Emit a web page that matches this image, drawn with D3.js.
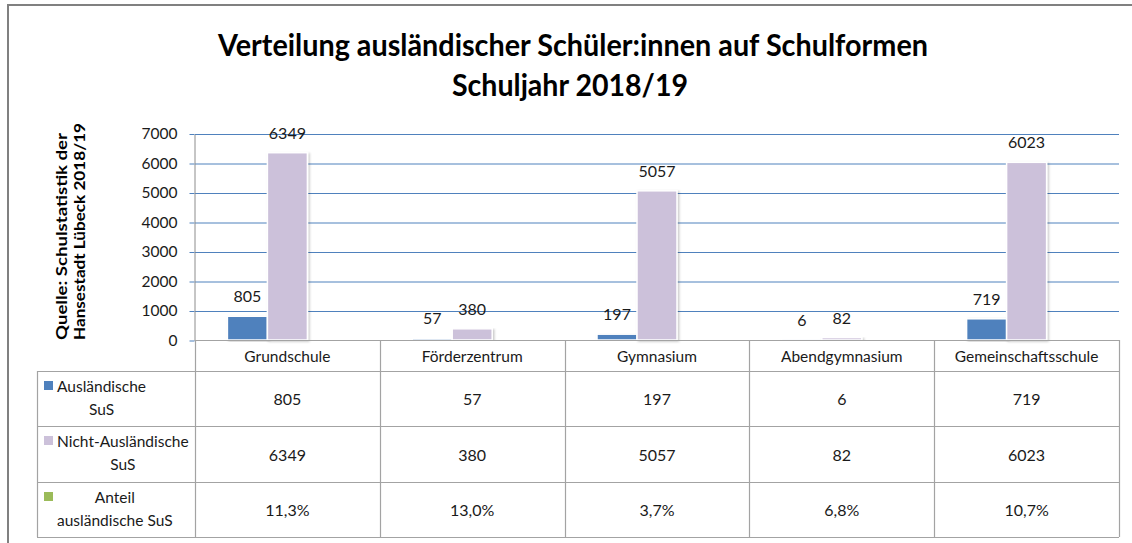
<!DOCTYPE html>
<html>
<head>
<meta charset="utf-8">
<script src="https://cdn.jsdelivr.net/npm/d3@7"></script>
<style>
  body { margin: 0; background: #fff; }
  text { font-family: Lato, "Open Sans", sans-serif; fill: #1a1a1a; }
  .tick text { font-size: 15.5px; }
</style>
</head>
<body>
<div class="chart"></div>
<script>
// Data
var categories = ["Grundschule", "Förderzentrum", "Gymnasium", "Abendgymnasium", "Gemeinschaftsschule"];
var auslaendischeSuS = [805, 57, 197, 6, 719];
var nichtAuslaendischeSuS = [6349, 380, 5057, 82, 6023];
var anteilAuslaendisch = [11.3, 13.0, 3.7, 6.8, 10.7];
var seriesNames = [["Ausländische", "SuS"], ["Nicht-Ausländische", "SuS"], ["Anteil", "ausländische SuS"]];
var seriesColors = ["#4F81BD", "#CCC1DA", "#9BBB59"];
var yTicks = [0, 1000, 2000, 3000, 4000, 5000, 6000, 7000];

var svgWidth = 1132;
var svgHeight = 543;

// plot box and table layout
var plot = { left: 195, right: 1119, top: 133.5, bottom: 340 };
var tableLeft = 37;
var catRowBottom = 371;
var rowTops = [371, 426, 482];
var tableBottom = 537;

var de = d3.formatLocale({ decimal: ",", thousands: ".", grouping: [3], currency: ["", " €"] });
var pct = de.format(".1f");

var svg = d3.select(".chart")
  .append("svg")
  .attr("width", svgWidth)
  .attr("height", svgHeight);

var defs = svg.append("defs");
defs.append("filter")
  .attr("id", "shadow")
  .attr("x", "-20%").attr("y", "-5%").attr("width", "140%").attr("height", "110%")
  .append("feDropShadow")
  .attr("dx", 1.5).attr("dy", 1)
  .attr("stdDeviation", 1.2)
  .attr("flood-color", "#000")
  .attr("flood-opacity", 0.22);

// outer frame (only top + left visible)
svg.append("path")
  .attr("d", `M8,${svgHeight} L8,5 L${svgWidth},5`)
  .attr("fill", "none")
  .attr("stroke", "#808080")
  .attr("stroke-width", 2);

// Title
var titleLines = [
  { text: "Verteilung ausländischer Schüler:innen auf Schulformen", x: 218, y: 56, len: 710 },
  { text: "Schuljahr 2018/19", x: 452, y: 96, len: 236 }
];
svg.selectAll(".title")
  .data(titleLines)
  .enter()
  .append("text")
  .attr("class", "title")
  .attr("x", d => d.x)
  .attr("y", d => d.y)
  .attr("textLength", d => d.len)
  .attr("lengthAdjust", "spacingAndGlyphs")
  .style("font-size", "30px")
  .style("font-weight", "bold")
  .style("fill", "#000")
  .text(d => d.text);

// Scales
var x0 = d3.scaleBand()
  .domain(categories)
  .range([plot.left, plot.right]);

var groupWidth = 120;
var x1 = d3.scaleBand()
  .domain([0, 1, 2])
  .range([(x0.bandwidth() - groupWidth) / 2, (x0.bandwidth() + groupWidth) / 2]);

var yLinearScale = d3.scaleLinear()
  .domain([0, 7000])
  .range([plot.bottom, plot.top]);

// Gridlines
svg.append("g")
  .attr("class", "grid")
  .attr("transform", `translate(${plot.left}, 0.5)`)
  .call(d3.axisLeft(yLinearScale).tickValues(yTicks.filter(t => t > 0)).tickSize(-(plot.right - plot.left)).tickFormat(""))
  .call(g => g.select(".domain").remove())
  .call(g => g.selectAll("line").attr("stroke", "#4F81BD").attr("stroke-width", 1));

// Left axis
var leftAxis = d3.axisLeft(yLinearScale)
  .tickValues(yTicks)
  .tickSize(5)
  .tickSizeOuter(0)
  .tickPadding(12)
  .tickFormat(d3.format("d"));

svg.append("g")
  .attr("transform", `translate(${plot.left - 0.5}, 0.5)`)
  .call(leftAxis)
  .call(g => g.select(".domain").attr("stroke", "#8c8c8c"))
  .call(g => g.selectAll(".tick line").attr("stroke", "#4F81BD"))
  .call(g => g.selectAll(".tick text").attr("fill", "#1a1a1a").style("font-family", "Lato, sans-serif"));

// Axis title (rotated, two lines)
var axisTitle = [
  { text: "Quelle: Schulstatistik der", x: 62, len: 207 },
  { text: "Hansestadt Lübeck 2018/19", x: 80, len: 217 }
];
svg.selectAll(".axisText")
  .data(axisTitle)
  .enter()
  .append("text")
  .attr("class", "axisText")
  .attr("transform", d => `translate(${d.x}, 340) rotate(-90)`)
  .attr("dy", "0.35em")
  .attr("textLength", d => d.len)
  .attr("lengthAdjust", "spacingAndGlyphs")
  .style("font-size", "15px")
  .style("font-weight", "bold")
  .style("fill", "#000")
  .text(d => d.text);

// Bars
var seriesValues = [auslaendischeSuS, nichtAuslaendischeSuS, anteilAuslaendisch.map(v => v / 100)];
var barData = [];
categories.forEach(function (c, i) {
  seriesValues.forEach(function (vals, s) {
    barData.push({ cat: c, s: s, value: vals[i] });
  });
});

var bars = svg.append("g");
bars.selectAll("rect")
  .data(barData.filter(d => d.s < 2))
  .enter()
  .append("rect")
  .attr("x", d => x0(d.cat) + x1(d.s))
  .attr("y", d => yLinearScale(d.value))
  .attr("width", x1.bandwidth())
  .attr("height", d => plot.bottom - yLinearScale(d.value))
  .attr("fill", d => seriesColors[d.s])
  .attr("stroke", "#fff")
  .attr("stroke-width", 1.5)
  .attr("filter", "url(#shadow)");

// third series (share) is so small it only sits on the baseline
bars.selectAll(".share")
  .data(barData.filter(d => d.s === 2))
  .enter()
  .append("rect")
  .attr("class", "share")
  .attr("x", d => x0(d.cat) + x1(d.s))
  .attr("y", d => yLinearScale(d.value))
  .attr("width", x1.bandwidth())
  .attr("height", d => plot.bottom - yLinearScale(d.value))
  .attr("fill", d => seriesColors[d.s]);

// Data labels
svg.append("g").selectAll("text")
  .data(barData.filter(d => d.s < 2))
  .enter()
  .append("text")
  .attr("x", d => x0(d.cat) + x1(d.s) + x1.bandwidth() / 2)
  .attr("y", d => yLinearScale(d.value) - 14)
  .attr("text-anchor", "middle")
  .style("font-size", "16px")
  .text(d => d.value);

// Data table
var table = svg.append("g")
  .attr("stroke", "#a3a3a3")
  .attr("stroke-width", 1.2)
  .attr("fill", "none");

var hLines = [plot.bottom].concat(rowTops).concat([tableBottom]);
table.selectAll(".h")
  .data(hLines)
  .enter()
  .append("line")
  .attr("x1", (d, i) => (i === 0 ? plot.left : tableLeft))
  .attr("x2", plot.right)
  .attr("y1", d => d + 0.5)
  .attr("y2", d => d + 0.5);

var colEdges = categories.map(c => x0(c)).concat([plot.right]);
table.selectAll(".v")
  .data(colEdges)
  .enter()
  .append("line")
  .attr("x1", d => Math.round(d) + 0.5)
  .attr("x2", d => Math.round(d) + 0.5)
  .attr("y1", plot.bottom)
  .attr("y2", tableBottom);

table.append("line")
  .attr("x1", tableLeft + 0.5).attr("x2", tableLeft + 0.5)
  .attr("y1", catRowBottom).attr("y2", tableBottom);

// Category labels
svg.append("g").selectAll("text")
  .data(categories)
  .enter()
  .append("text")
  .attr("x", d => x0(d) + x0.bandwidth() / 2)
  .attr("y", 361.5)
  .attr("text-anchor", "middle")
  .style("font-size", "15.5px")
  .text(d => d);

// Table values
var rowTexts = [
  auslaendischeSuS.map(v => String(v)),
  nichtAuslaendischeSuS.map(v => String(v)),
  anteilAuslaendisch.map(v => pct(v) + "%")
];
var rowBottoms = rowTops.slice(1).concat([tableBottom]);
rowTexts.forEach(function (vals, r) {
  svg.append("g").selectAll("text")
    .data(vals)
    .enter()
    .append("text")
    .attr("x", (d, i) => x0(categories[i]) + x0.bandwidth() / 2)
    .attr("y", (rowTops[r] + rowBottoms[r]) / 2 + 1)
    .attr("dy", "0.35em")
    .attr("text-anchor", "middle")
    .style("font-size", "16px")
    .text(d => d);
});

// Legend keys + names in first column
seriesNames.forEach(function (lines, r) {
  var top = rowTops[r];
  svg.append("rect")
    .attr("x", 44)
    .attr("y", top + 10)
    .attr("width", 9)
    .attr("height", 9)
    .attr("fill", seriesColors[r]);

  var g = svg.append("g");
  var texts = g.selectAll("text")
    .data(lines)
    .enter()
    .append("text")
    .attr("y", (d, i) => top + 21 + i * 23)
    .attr("text-anchor", "middle")
    .style("font-size", "15.5px")
    .text(d => d);

  var maxW = d3.max(texts.nodes(), n => n.getComputedTextLength());
  texts.attr("x", 57 + maxW / 2);
});
</script>
</body>
</html>
